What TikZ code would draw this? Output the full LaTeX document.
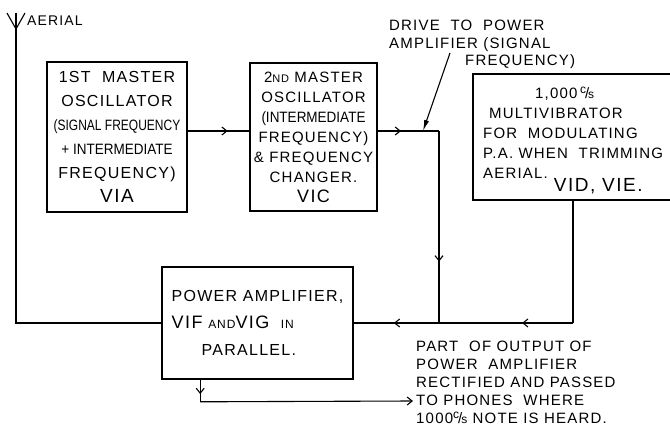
\documentclass[tikz,border=0pt]{standalone}
\usepackage{fontspec}
\setmainfont{Liberation Sans}[LetterSpace=8]
\newfontfamily\narrowsf{Liberation Sans}[FakeStretch=0.8]
\newfontfamily\semisf{Liberation Sans}[FakeStretch=0.9]
\usepackage{tikz}
\usetikzlibrary{arrows.meta,calc,positioning,decorations.markings}
\newcommand{\lettering}[2]{\fontsize{#1}{#2}\selectfont}
\newcommand{\cycps}{\raisebox{5pt}{\lettering{12}{12}c}\kern-1pt{\lettering{15}{15}/}\kern-1pt{\lettering{12}{12}s}}

\begin{document}
\begin{tikzpicture}[x=1pt,y=-1pt,
  unit/.style={draw,line width=1.6pt,align=center,inner sep=0pt},
  wire/.style={line width=1.1pt},
  txt/.style={align=left,inner sep=0pt,anchor=north west},
  midarr/.style={postaction={decorate},decoration={markings,mark=at position #1 with {\arrow{Straight Barb[length=5pt,width=8pt]}}}}]
  \useasboundingbox (0,0) rectangle (670,428);
  \node[unit,minimum width=140pt,minimum height=150pt,font=\lettering{16}{24}] (osc1) at (117,137) {1ST\ \ MASTER\\OSCILLATOR\\{\lettering{15}{24}\narrowsf(SIGNAL FREQUENCY}\\{\lettering{15}{24}\semisf + INTERMEDIATE}\\FREQUENCY)\\{\lettering{19}{24}VIA}};
  \node[unit,minimum width=127pt,minimum height=148pt,font=\lettering{15}{20}] (osc2) at (313.5,137) {2{\lettering{11}{20}ND} MASTER\\OSCILLATOR\\{\semisf(INTERMEDIATE}\\FREQUENCY)\\\&\ FREQUENCY\\CHANGER.\\{\lettering{18}{20}VIC}};
  \node[unit,minimum width=200pt,minimum height=126pt] (multi) at (573,137) {};
  \node[txt,font=\lettering{15}{20}] (multitxt) at (483,87) {\hspace*{52pt}1,000\,\cycps\\\hspace*{6pt}MULTIVIBRATOR\\FOR\ \ MODULATING\\P.A. WHEN\ \ TRIMMING\\AERIAL.\hspace*{6pt}\raisebox{-13pt}{\lettering{19}{20}VID, VIE.}};
  \node[unit,minimum width=191pt,minimum height=112pt,align=left,font=\lettering{16}{27}] (pa) at (257.5,323) {POWER\ AMPLIFIER,\\{\lettering{18}{27}VIF} {\lettering{12}{27}AND}{\lettering{18}{27}VIG}\ \ {\lettering{12}{27}IN}\\\hspace*{30pt}PARALLEL.};
  \node[txt,font=\lettering{15}{17.5}] (drivelbl) at (389,20) {DRIVE\ \ TO\ \ POWER\\AMPLIFIER (SIGNAL\\\hspace*{76pt}FREQUENCY)};
  \node[txt,font=\lettering{15}{18}] (phonelbl) at (416,341) {PART\ \ OF\ OUTPUT\ OF\\POWER\ \ AMPLIFIER\\RECTIFIED AND PASSED\\TO\ PHONES\ \ WHERE\\1000\cycps\ NOTE IS HEARD.};
  \node[txt,font=\lettering{14}{14}] (aeriallbl) at (27,16) {AERIAL};
  \coordinate (aerial) at (16,13);
  \draw[wire] ($(aerial)+(-9,0)$) -- ($(aerial)+(0,16)$) -- ($(aerial)+(9,0)$);
  \draw[wire] (aerial) |- (pa.west);
  \coordinate (drv) at (439,131);
  \coordinate (pajoin) at (drv |- pa.east);
  \coordinate (mvcorner) at (multi.south |- pa.east);
  \draw[wire,midarr=0.65] ([yshift=6pt]osc1.east) -- ([yshift=6pt]osc2.west);
  \draw[wire,midarr=0.38] ([yshift=6pt]osc2.east) -- (drv);
  \draw[wire,midarr=0.68] (drv) -- (pajoin);
  \draw[wire] (multi.south) -- (mvcorner);
  \draw[wire,midarr=0.38] (mvcorner) -- (pajoin);
  \draw[wire,midarr=0.53] (pajoin) -- (pa.east);
  \coordinate (drvtail) at (450,53);
  \coordinate (drvtap) at (423,131);
  \draw[wire,-{Latex[length=11pt,width=5pt]}] (drvtail) -- (drvtap);
  \coordinate (paout) at ([xshift=39pt]pa.south west);
  \coordinate (phcorner) at ($(paout)+(0,22)$);
  \coordinate (phend) at (413,401);
  \draw[wire,midarr=0.65] (paout) -- (phcorner);
  \draw[wire,-{Straight Barb[length=5pt,width=8pt]}] (phcorner) -- (phend);
\end{tikzpicture}
\end{document}
